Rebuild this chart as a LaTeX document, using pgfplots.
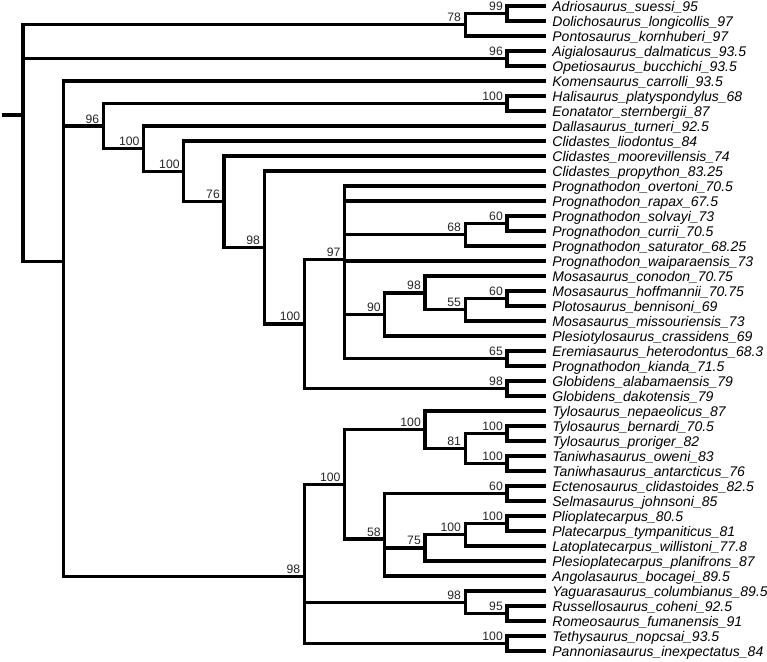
\documentclass[border=0pt]{standalone}
\usepackage{fontspec}
\setmainfont{Liberation Sans}
\usepackage{pgfplots}
\pgfplotsset{compat=1.18}
\newcommand{\lf}[2]{\node[anchor=base west, inner sep=0pt, yshift=-2.6pt, font=\fontsize{7}{8}\selectfont\itshape] at (axis cs:552,#1) {#2};}
\newcommand{\sv}[3]{\node[anchor=base east, inner sep=0pt, xshift=-1.9pt, yshift=1.5pt, font=\fontsize{6.1}{7}\selectfont, text=black!85] at (axis cs:#1,#2) {#3};}
\begin{document}
\begin{tikzpicture}
\begin{axis}[name=ax, scale only axis, width=383.5pt, height=330.5pt,
  xmin=0, xmax=767, ymin=0, ymax=661, y dir=reverse, hide axis, clip=false,
  tree/.style={black, line width=1.65pt, line join=miter, no markers}]
% top
\addplot[tree] coordinates {(545.6,6)(507,6)(507,21)(545.6,21)};
\addplot[tree] coordinates {(507,13.5)(465.2,13.5)(465.2,36)(545.6,36)};
\addplot[tree] coordinates {(545.6,51)(507,51)(507,66)(545.6,66)};
\addplot[tree] coordinates {(465.2,24.75)(23,24.75)(23,261.27)(63.2,261.27)};
\addplot[tree] coordinates {(23,58.5)(507,58.5)};
\addplot[tree] coordinates {(2,114.84)(23,114.84)};
\addplot[tree] coordinates {(545.6,81)(63.2,81)(63.2,576.73)(304.4,576.73)};
\addplot[tree] coordinates {(63.2,126.09)(103.4,126.09)};
\addplot[tree] coordinates {(507,103.5)(103.4,103.5)(103.4,148.68)(143.6,148.68)};
\addplot[tree] coordinates {(545.6,96)(507,96)(507,111)(545.6,111)};
\addplot[tree] coordinates {(545.6,126)(143.6,126)(143.6,171.36)(183.8,171.36)};
\addplot[tree] coordinates {(545.6,141)(183.8,141)(183.8,201.72)(224,201.72)};
\addplot[tree] coordinates {(545.6,156)(224,156)(224,247.45)(264.2,247.45)};
\addplot[tree] coordinates {(545.6,171)(264.2,171)(264.2,323.89)(304.4,323.89)};
\addplot[tree] coordinates {(344.6,259.28)(304.4,259.28)(304.4,388.5)(507,388.5)};
\addplot[tree] coordinates {(545.6,381)(507,381)(507,396)(545.6,396)};
\addplot[tree] coordinates {(545.6,186)(344.6,186)(344.6,358.5)(507,358.5)};
\addplot[tree] coordinates {(344.6,201)(545.6,201)};
\addplot[tree] coordinates {(344.6,234.75)(465.2,234.75)};
\addplot[tree] coordinates {(344.6,261)(545.6,261)};
\addplot[tree] coordinates {(344.6,314.44)(384.8,314.44)};
\addplot[tree] coordinates {(507,223.5)(465.2,223.5)(465.2,246)(545.6,246)};
\addplot[tree] coordinates {(545.6,216)(507,216)(507,231)(545.6,231)};
\addplot[tree] coordinates {(425,292.88)(384.8,292.88)(384.8,336)(545.6,336)};
\addplot[tree] coordinates {(545.6,276)(425,276)(425,309.75)(465.2,309.75)};
\addplot[tree] coordinates {(507,298.5)(465.2,298.5)(465.2,321)(545.6,321)};
\addplot[tree] coordinates {(545.6,291)(507,291)(507,306)(545.6,306)};
\addplot[tree] coordinates {(545.6,351)(507,351)(507,366)(545.6,366)};
% lower
\addplot[tree] coordinates {(344.6,484.44)(304.4,484.44)(304.4,643.5)(507,643.5)};
\addplot[tree] coordinates {(304.4,602.25)(465.2,602.25)};
\addplot[tree] coordinates {(425,429.75)(344.6,429.75)(344.6,539.13)(384.8,539.13)};
\addplot[tree] coordinates {(545.6,411)(425,411)(425,448.5)(465.2,448.5)};
\addplot[tree] coordinates {(507,433.5)(465.2,433.5)(465.2,463.5)(507,463.5)};
\addplot[tree] coordinates {(545.6,426)(507,426)(507,441)(545.6,441)};
\addplot[tree] coordinates {(545.6,456)(507,456)(507,471)(545.6,471)};
\addplot[tree] coordinates {(507,493.5)(384.8,493.5)(384.8,576)(545.6,576)};
\addplot[tree] coordinates {(384.8,547.88)(425,547.88)};
\addplot[tree] coordinates {(545.6,486)(507,486)(507,501)(545.6,501)};
\addplot[tree] coordinates {(465.2,534.75)(425,534.75)(425,561)(545.6,561)};
\addplot[tree] coordinates {(507,523.5)(465.2,523.5)(465.2,546)(545.6,546)};
\addplot[tree] coordinates {(545.6,516)(507,516)(507,531)(545.6,531)};
\addplot[tree] coordinates {(545.6,591)(465.2,591)(465.2,613.5)(507,613.5)};
\addplot[tree] coordinates {(545.6,606)(507,606)(507,621)(545.6,621)};
\addplot[tree] coordinates {(545.6,636)(507,636)(507,651)(545.6,651)};
% leaf labels
\lf{6}{Adriosaurus\_suessi\_95}
\lf{21}{Dolichosaurus\_longicollis\_97}
\lf{36}{Pontosaurus\_kornhuberi\_97}
\lf{51}{Aigialosaurus\_dalmaticus\_93.5}
\lf{66}{Opetiosaurus\_bucchichi\_93.5}
\lf{81}{Komensaurus\_carrolli\_93.5}
\lf{96}{Halisaurus\_platyspondylus\_68}
\lf{111}{Eonatator\_sternbergii\_87}
\lf{126}{Dallasaurus\_turneri\_92.5}
\lf{141}{Clidastes\_liodontus\_84}
\lf{156}{Clidastes\_moorevillensis\_74}
\lf{171}{Clidastes\_propython\_83.25}
\lf{186}{Prognathodon\_overtoni\_70.5}
\lf{201}{Prognathodon\_rapax\_67.5}
\lf{216}{Prognathodon\_solvayi\_73}
\lf{231}{Prognathodon\_currii\_70.5}
\lf{246}{Prognathodon\_saturator\_68.25}
\lf{261}{Prognathodon\_waiparaensis\_73}
\lf{276}{Mosasaurus\_conodon\_70.75}
\lf{291}{Mosasaurus\_hoffmannii\_70.75}
\lf{306}{Plotosaurus\_bennisoni\_69}
\lf{321}{Mosasaurus\_missouriensis\_73}
\lf{336}{Plesiotylosaurus\_crassidens\_69}
\lf{351}{Eremiasaurus\_heterodontus\_68.3}
\lf{366}{Prognathodon\_kianda\_71.5}
\lf{381}{Globidens\_alabamaensis\_79}
\lf{396}{Globidens\_dakotensis\_79}
\lf{411}{Tylosaurus\_nepaeolicus\_87}
\lf{426}{Tylosaurus\_bernardi\_70.5}
\lf{441}{Tylosaurus\_proriger\_82}
\lf{456}{Taniwhasaurus\_oweni\_83}
\lf{471}{Taniwhasaurus\_antarcticus\_76}
\lf{486}{Ectenosaurus\_clidastoides\_82.5}
\lf{501}{Selmasaurus\_johnsoni\_85}
\lf{516}{Plioplatecarpus\_80.5}
\lf{531}{Platecarpus\_tympaniticus\_81}
\lf{546}{Latoplatecarpus\_willistoni\_77.8}
\lf{561}{Plesioplatecarpus\_planifrons\_87}
\lf{576}{Angolasaurus\_bocagei\_89.5}
\lf{591}{Yaguarasaurus\_columbianus\_89.5}
\lf{606}{Russellosaurus\_coheni\_92.5}
\lf{621}{Romeosaurus\_fumanensis\_91}
\lf{636}{Tethysaurus\_nopcsai\_93.5}
\lf{651}{Pannoniasaurus\_inexpectatus\_84}
% support values
\sv{507}{13.5}{99}
\sv{465.2}{24.75}{78}
\sv{507}{58.5}{96}
\sv{507}{103.5}{100}
\sv{103.4}{126.09}{96}
\sv{143.6}{148.68}{100}
\sv{183.8}{171.36}{100}
\sv{224}{201.72}{76}
\sv{264.2}{247.45}{98}
\sv{304.4}{323.89}{100}
\sv{344.6}{259.28}{97}
\sv{465.2}{234.75}{68}
\sv{507}{223.5}{60}
\sv{384.8}{314.44}{90}
\sv{425}{292.88}{98}
\sv{465.2}{309.75}{55}
\sv{507}{298.5}{60}
\sv{507}{358.5}{65}
\sv{507}{388.5}{98}
\sv{425}{429.75}{100}
\sv{465.2}{448.5}{81}
\sv{507}{433.5}{100}
\sv{507}{463.5}{100}
\sv{344.6}{484.44}{100}
\sv{507}{493.5}{60}
\sv{384.8}{539.13}{58}
\sv{425}{547.88}{75}
\sv{465.2}{534.75}{100}
\sv{507}{523.5}{100}
\sv{304.4}{576.73}{98}
\sv{465.2}{602.25}{98}
\sv{507}{613.5}{95}
\sv{507}{643.5}{100}
\end{axis}
\pgfresetboundingbox
\path (ax.south west) rectangle (ax.north east);
\end{tikzpicture}
\end{document}
